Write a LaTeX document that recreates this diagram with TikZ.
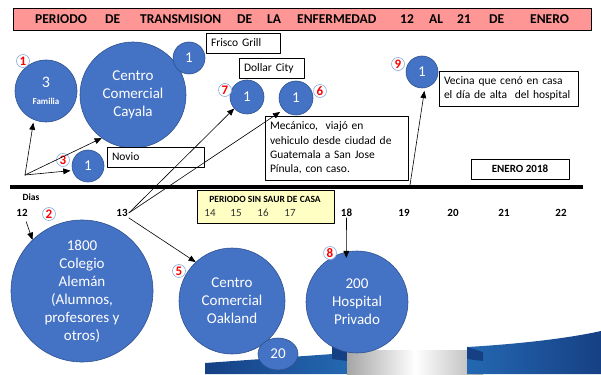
\documentclass[tikz,border=0pt]{standalone}
\usepackage{fontspec}
\setmainfont{Carlito}
\usepackage{tikz}
\usetikzlibrary{arrows}
\usetikzlibrary{shapes.geometric}
\definecolor{sininen}{RGB}{68,114,196}
\definecolor{tsininen}{RGB}{47,82,143}
\definecolor{nauha}{RGB}{36,104,178}
\definecolor{tnauha}{RGB}{22,64,132}
\definecolor{pinkki}{RGB}{255,150,150}
\definecolor{keltainen}{RGB}{255,255,196}

\begin{document}
\begin{tikzpicture}[line cap=round,line join=round,>=triangle 45,x=1pt,y=-1pt,
  pallo/.style={circle,fill=sininen,draw=tsininen,line width=0.6pt,text=white,inner sep=0pt,align=center,font=\fontsize{15}{18}\selectfont},
  merkki/.style={circle,fill=white,draw=sininen!60,line width=0.6pt,inner sep=0pt,minimum size=13pt,text=red,font=\bfseries\fontsize{13}{13}\selectfont},
  laatikko/.style={rectangle,draw=black,fill=white,line width=0.8pt,inner xsep=5pt,inner ysep=0pt,align=left,font=\fontsize{11.5}{14.3}\selectfont},
  paiva/.style={inner sep=1pt,font=\bfseries\fontsize{11}{12}\selectfont},
  nuoli/.style={->,line width=0.6pt}]
\useasboundingbox (0,0) rectangle (601,374);

%koristeet alhaalla
\shade[left color=tnauha,right color=nauha] (205,363) -- (347,353) -- (347,374) -- (205,374) -- cycle;
\fill[tnauha] (332,346) -- (347,351) -- (347,361) -- (332,359) -- cycle;
\shade[left color=black!35,right color=black!30,middle color=white] (347,350) -- (483,350) -- (483,374) -- (347,374) -- cycle;
\shade[left color=nauha,right color=tnauha] (467,347) .. controls (520,344) and (570,338) .. (601,331) -- (601,374) -- (467,374) -- cycle;
\fill[tnauha] (467,347) -- (483,352) -- (483,361) -- (467,359) -- cycle;

%otsikko
\node[draw=black,fill=pinkki,line width=0.8pt,minimum width=578pt,minimum height=22pt,inner sep=0pt] (otsikko) at (302,19) {};
\foreach \x/\s in {35/PERIODO,105/DE,140/TRANSMISION,237/DE,267/LA,297/ENFERMEDAD,400/12,429/AL,457/21,489/DE,530/ENERO}
{
\node[anchor=west,inner sep=0pt,font=\bfseries\fontsize{13.5}{14}\selectfont] (ot\x) at (\x,19.5) {\s};
}

%aikajana
\draw[line width=4.5pt,line cap=butt] (10,187) -- (583,187);
\node[paiva,font=\bfseries\fontsize{9.5}{10}\selectfont] (dias) at (31,197) {Dias};
\foreach \x/\p in {22/12,122/13,346.5/18,404/19,453/20,504/21,561/22}
{
\node[paiva] (d\p) at (\x,213) {\p};
}
\node[draw=black,fill=keltainen,line width=0.8pt,minimum width=137pt,minimum height=33pt,inner sep=0pt] (koti) at (265.5,206.5) {};
\node[inner sep=0pt,font=\bfseries\fontsize{9.5}{10}\selectfont] (kotiteksti) at (265,199) {PERIODO SIN SAUR DE CASA};
\foreach \x/\p in {210/14,236/15,263/16,290/17}
{
\node[paiva,font=\fontsize{11}{12}\selectfont,text=black!80] (d\p) at (\x,213) {\p};
}
\node[laatikko,align=center,font=\bfseries\fontsize{11}{12}\selectfont,minimum width=98pt,minimum height=20pt] (enero) at (520,169) {ENERO 2018};

%ympyrat
\node[pallo,minimum size=62pt] (familia) at (46,91) {\fontsize{16}{17}\selectfont 3\\[-1pt]\bfseries\fontsize{9}{10}\selectfont Familia};
\node[pallo,minimum size=106pt] (cayala) at (133,95) {Centro\\Comercial\\Cayala};
\node[pallo,minimum size=32pt] (frisco) at (189,58) {1};
\node[pallo,minimum size=34pt] (dollar) at (247,97) {1};
\node[pallo,minimum size=34pt] (mecanico) at (296,98) {1};
\node[pallo,minimum size=32pt] (novio) at (88,166) {1};
\node[pallo,minimum size=32pt] (vecina) at (422,72) {1};
\node[pallo,minimum size=142pt] (colegio) at (82,291) {1800\\Colegio\\Alemán\\(Alumnos,\\profesores y\\otros)};
\node[pallo,minimum size=106pt] (oakland) at (232,301) {Centro\\Comercial\\Oakland};
\node[pallo,minimum size=102pt] (hospital) at (357,302) {200\\Hospital\\Privado};
\node[pallo,ellipse,minimum width=40pt,minimum height=32pt] (veinte) at (278,354) {20};

%laatikot
\node[laatikko,minimum width=74pt,minimum height=20pt,text width=64pt] (friscol) at (243,43) {Frisco Grill};
\node[laatikko,minimum width=65pt,minimum height=20pt,text width=55pt] (dollarl) at (271.5,68) {Dollar City};
\node[laatikko,minimum width=97pt,minimum height=20pt,text width=87pt] (noviol) at (155.5,157) {Novio};
\node[laatikko,minimum width=143pt,minimum height=64pt,text width=133pt] (mecanicol) at (336.5,148) {Mecánico,\ \ viajó en\\vehiculo desde ciudad de\\Guatemala a San Jose\\Pínula, con caso.};
\node[laatikko,minimum width=139pt,minimum height=35pt,text width=129pt,font=\fontsize{11.5}{14}\selectfont] (vecinal) at (508.5,88.5) {Vecina que cenó en casa\\el día de alta\ \ del hospital};

%numerot
\foreach \n/\x/\y in {1/23/61,2/49/214,3/63/160,5/179/271,6/320/91,7/225/90,8/330/253,9/398/64}
{
\node[merkki] (m\n) at (\x,\y) {\n};
}

%nuolet
\coordinate (alku) at (25,175);
\coordinate (t19) at (410,185);
\draw[nuoli,shorten >=3pt] (alku) -- (familia.247);
\draw[nuoli] (alku) -- (cayala.234);
\draw[nuoli,shorten >=2pt] (alku) -- (novio.196);
\draw[nuoli,shorten <=4pt] (d12.-60) -- (colegio.134);
\draw[nuoli] (d13.east) -- (dollar.222);
\draw[nuoli,shorten >=4pt] (d13.east) -- (mecanico.223);
\draw[nuoli] (d13.south east) -- (oakland.133);
\draw[nuoli,shorten >=-6pt] (d18.south) -- (hospital.102);
\draw[nuoli,shorten >=3pt] (t19) -- (vecina.-80);
\end{tikzpicture}
\end{document}
